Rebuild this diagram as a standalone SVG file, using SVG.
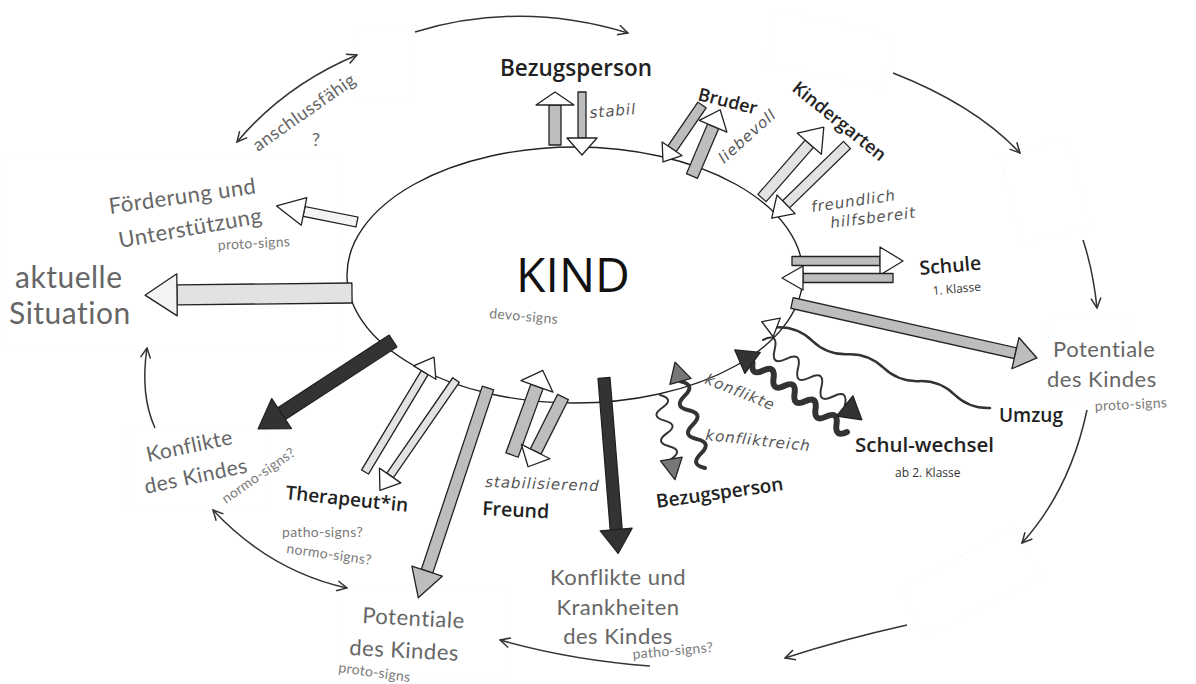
<svg xmlns="http://www.w3.org/2000/svg" width="1196" height="684" viewBox="0 0 1196 684">
  <defs>
    <marker id="vh" viewBox="0 0 12 12" refX="11" refY="6" markerWidth="12" markerHeight="12" markerUnits="userSpaceOnUse" orient="auto-start-reverse">
      <path d="M1,1 L11,6 L1,11" fill="none" stroke="#333" stroke-width="1.5"/>
    </marker>
    <style>
      .bg{fill:#fff}
      .ring{fill:none;stroke:#333;stroke-width:1.5}
      .ghost{fill:none;stroke:#f0f0f0;stroke-width:1;stroke-dasharray:1 3}
      .kind{fill:#fff;stroke:#222;stroke-width:1.4}
      .ar rect,.ar polygon{stroke:#222;stroke-width:1.3;stroke-linejoin:round}
      .g{fill:#bdbdbd}
      .l{fill:#e2e2e2}
      .vl{fill:#f3f3f3}
      .d{fill:#333}
      .w{fill:#fff}
      .wave{fill:none;stroke:#333;stroke-linecap:round;stroke-linejoin:round}
      .lab{font-family:"Open Sans","Liberation Sans",sans-serif;font-weight:600;fill:#222}
      .out{font-family:Lato,"Liberation Sans",sans-serif;fill:#666;letter-spacing:0.5px}
      .sig{font-family:Lato,"Liberation Sans",sans-serif;fill:#7a7a7a;font-size:14px;letter-spacing:0.3px}
      .hand{font-family:"DejaVu Sans","Liberation Sans",sans-serif;font-style:italic;fill:#555;font-size:15px;letter-spacing:1px}
      .sm{font-family:"Open Sans","Liberation Sans",sans-serif;fill:#333;font-size:12px}
    </style>
  </defs>
  <rect class="bg" width="1196" height="684"/>

  <!-- faint empty frames around the outer stations -->
  <g id="frames">
    <rect class="ghost" x="355" y="25" width="60" height="72"/>
    <rect class="ghost" x="5" y="155" width="337" height="195"/>
    <rect class="ghost" x="770" y="22" width="120" height="55" transform="rotate(12 830 50)"/>
    <rect class="ghost" x="1010" y="145" width="70" height="92" transform="rotate(-15 1045 190)"/>
    <rect class="ghost" x="1048" y="318" width="80" height="82"/>
    <rect class="ghost" x="905" y="555" width="130" height="55" transform="rotate(-28 970 582)"/>
    <rect class="ghost" x="128" y="428" width="137" height="82"/>
    <rect class="ghost" x="340" y="590" width="165" height="88"/>
  </g>

  <!-- cycle of stations around the child -->
  <g id="connectors">
    <path class="ring" d="M237,142 Q285,85 357,55" marker-start="url(#vh)" marker-end="url(#vh)"/>
    <path class="ring" d="M415,32 Q520,0 628,33" marker-end="url(#vh)"/>
    <path class="ring" d="M893,73 Q975,105 1020,153" marker-end="url(#vh)"/>
    <path class="ring" d="M1083,240 Q1093,270 1097,308" marker-end="url(#vh)"/>
    <path class="ring" d="M1087,410 Q1070,490 1022,543" marker-end="url(#vh)"/>
    <path class="ring" d="M907,625 Q840,640 785,658" marker-end="url(#vh)"/>
    <path class="ring" d="M650,666 Q570,660 500,640" marker-end="url(#vh)"/>
    <path class="ring" d="M213,510 Q270,571 347,588" marker-start="url(#vh)" marker-end="url(#vh)"/>
    <path class="ring" d="M155,428 Q140,395 147,348" marker-end="url(#vh)"/>
  </g>

  <!-- central node -->
  <g id="kind">
    <ellipse class="kind" cx="575" cy="275" rx="228" ry="128"/>
    <text x="573" y="292" text-anchor="middle" font-family="Open Sans, Liberation Sans, sans-serif" font-size="48" fill="#111">KIND</text>
    <text class="sig" transform="translate(489,318) rotate(5)" font-size="13.5">devo-signs</text>
  </g>

  <!-- relation arrows -->
  <g id="relations" class="ar">
    <!-- Bezugsperson (top) -->
    <g transform="translate(555,145) rotate(-90)"><rect class="g" x="0" y="-6" width="40" height="12"/><polygon class="w" points="40,-19 53,0 40,19"/></g>
    <g transform="translate(582,92) rotate(90)"><rect class="g" x="0" y="-4" width="46" height="8"/><polygon class="w" points="46,-15 63,0 46,15"/></g>
    <!-- Bruder -->
    <g transform="translate(702,105) rotate(124.4)"><rect class="g" x="0" y="-5" width="53" height="10"/><polygon class="w" points="53,-12 69,0 53,12"/></g>
    <g transform="translate(692,176) rotate(-67)"><rect class="g" x="0" y="-6" width="54" height="12"/><polygon class="w" points="54,-15 72,0 54,15"/></g>
    <!-- Kindergarten -->
    <g transform="translate(762,198) rotate(-48.9)"><rect class="l" x="0" y="-5.5" width="72" height="11"/><polygon class="w" points="72,-16 94,0 72,16"/></g>
    <g transform="translate(847,145) rotate(135.8)"><rect class="l" x="0" y="-5" width="85" height="10"/><polygon class="w" points="85,-13 105,0 85,13"/></g>
    <!-- Schule -->
    <g transform="translate(792,261)"><rect class="g" x="0" y="-4.5" width="88" height="9"/><polygon class="w" points="88,-14 111,0 88,14"/></g>
    <g transform="translate(893,278) rotate(180)"><rect class="g" x="0" y="-4.5" width="90" height="9"/><polygon class="w" points="90,-12 111,0 90,12"/></g>
    <!-- Potentiale (right) -->
    <g transform="translate(792,303) rotate(12.65)"><rect class="g" x="0" y="-5.5" width="229" height="11"/><polygon class="g" points="229,-16 251,0 229,16"/></g>
    <!-- Foerderung und Unterstuetzung -->
    <g transform="translate(357,222) rotate(191.3)"><rect class="vl" x="0" y="-5" width="54" height="10"/><polygon class="w" points="54,-14 82,0 54,14"/></g>
    <!-- aktuelle Situation -->
    <g transform="translate(352,293) rotate(179.4)"><rect class="l" x="0" y="-10" width="175" height="20"/><polygon class="vl" points="175,-21 207,0 175,21"/></g>
    <!-- Konflikte des Kindes -->
    <g transform="translate(393,341) rotate(146.9)"><rect class="d" x="0" y="-7" width="133" height="14"/><polygon class="d" points="133,-18 161,0 133,18"/></g>
    <!-- Therapeut*in -->
    <g transform="translate(365,472) rotate(-59)"><rect class="l" x="0" y="-4" width="116" height="8"/><polygon class="w" points="116,-13 134,0 116,13"/></g>
    <g transform="translate(456,380) rotate(124.6)"><rect class="l" x="0" y="-4" width="116" height="8"/><polygon class="w" points="116,-13 134,0 116,13"/></g>
    <!-- Potentiale (bottom) -->
    <g transform="translate(488,388) rotate(108.4)"><rect class="g" x="0" y="-6" width="193" height="12"/><polygon class="g" points="193,-16 221,0 193,16"/></g>
    <!-- Freund -->
    <g transform="translate(512,455) rotate(-70)"><rect class="g" x="0" y="-6.5" width="73" height="13"/><polygon class="w" points="73,-17 90,0 73,17"/></g>
    <g transform="translate(563,397) rotate(116.6)"><rect class="g" x="0" y="-6" width="61" height="12"/><polygon class="w" points="61,-16 78,0 61,16"/></g>
    <!-- Konflikte und Krankheiten -->
    <g transform="translate(604,378) rotate(85.4)"><rect class="d" x="0" y="-6" width="152" height="12"/><polygon class="d" points="152,-16 176,0 152,16"/></g>

    <!-- Bezugsperson (bottom), wavy -->
    <g transform="translate(660,395) rotate(80)"><path class="wave" stroke-width="2" d="M0,0 q6.5,-14 13,0 t13,0 t13,0 t13,0 t13,0"/><polygon fill="#777" points="65,-11 86,0 65,11"/></g>
    <g transform="translate(705,468) rotate(-105.8)"><path class="wave" stroke-width="4" d="M0,0 q7.5,-14 15,0 t15,0 t15,0 t15,0 t15,0 t15,0"/><polygon fill="#777" points="90,-11 110,0 90,11"/></g>
    <!-- Schul-wechsel, wavy -->
    <g transform="translate(847,432) rotate(216.2)"><path class="wave" stroke-width="6" d="M0,0 q6.5,-12 13,0 t13,0 t13,0 t13,0 t13,0 t13,0 t13,0 t13,0 t13,0"/><polygon class="d" points="117,-13 139,0 117,13"/></g>
    <g transform="translate(763,340) rotate(38.9)"><path class="wave" stroke-width="2" d="M0,0 q7.5,-16 15,0 t15,0 t15,0 t15,0 t15,0 t15,0 t15,0"/><polygon class="d" points="105,-13 127,0 105,13"/></g>
    <!-- Umzug -->
    <g transform="translate(990,408) rotate(200.7)"><path class="wave" stroke-width="2.5" d="M0,0 q19,-8 38,0 t38,0 t38,0 t38,0 t38,0 t38,0"/><polygon class="w" points="228,-10 244,0 228,10"/></g>
  </g>

  <!-- relation labels -->
  <g id="label-bezug-top">
    <text class="lab" x="500" y="76" font-size="22.5">Bezugsperson</text>
    <text class="hand" transform="translate(590,118) rotate(-5)">stabil</text>
  </g>
  <g id="label-bruder">
    <text class="lab" transform="translate(697,100) rotate(14)" font-size="18">Bruder</text>
    <text class="hand" transform="translate(724,164) rotate(-42)" font-size="13" letter-spacing="0.5">liebevoll</text>
  </g>
  <g id="label-kindergarten">
    <text class="lab" transform="translate(791,90) rotate(39)" font-size="18">Kindergarten</text>
    <text class="hand" transform="translate(812,212) rotate(-8)">freundlich</text>
    <text class="hand" transform="translate(831,228) rotate(-7)">hilfsbereit</text>
  </g>
  <g id="label-schule">
    <text class="lab" transform="translate(920,275) rotate(-5)" font-size="19.5">Schule</text>
    <text class="sm" transform="translate(933,295) rotate(-5)" font-size="11">1. Klasse</text>
  </g>
  <g id="label-umzug">
    <text class="lab" x="999" y="422" font-size="19">Umzug</text>
  </g>
  <g id="label-schulwechsel">
    <text class="lab" x="855" y="452" font-size="20.5" font-weight="500">Schul-wechsel</text>
    <text class="sm" x="895" y="477">ab 2. Klasse</text>
  </g>
  <g id="label-bezug-bottom">
    <text class="lab" transform="translate(657,508) rotate(-8)" font-size="19">Bezugsperson</text>
    <text class="hand" transform="translate(704,383) rotate(22)">konflikte</text>
    <text class="hand" transform="translate(705,440) rotate(6)">konfliktreich</text>
  </g>
  <g id="label-freund">
    <text class="hand" transform="translate(485,487) rotate(2)" font-size="14">stabilisierend</text>
    <text class="lab" transform="translate(482,515) rotate(3)" font-size="19.5">Freund</text>
  </g>
  <g id="label-therapeut">
    <text class="lab" transform="translate(285,499) rotate(6)" font-size="19">Therapeut*in</text>
    <text class="sig" x="282" y="537">patho-signs?</text>
    <text class="sig" transform="translate(286,553) rotate(8)">normo-signs?</text>
  </g>

  <!-- outer stations -->
  <g id="anschluss">
    <text class="out" transform="translate(258,152) rotate(-35)" font-size="18">anschlussfähig</text>
    <text class="out" x="312" y="146" font-size="18">?</text>
  </g>
  <g id="foerderung">
    <text class="out" transform="translate(110,214) rotate(-8)" font-size="22">Förderung und</text>
    <text class="out" transform="translate(120,248) rotate(-10)" font-size="22">Unterstützung</text>
    <text class="sig" transform="translate(218,250) rotate(-3)">proto-signs</text>
  </g>
  <g id="aktuelle">
    <text class="out" x="15" y="288" font-size="30" fill="#555">aktuelle</text>
    <text class="out" x="9" y="324" font-size="30" fill="#555">Situation</text>
  </g>
  <g id="konflikte-kind">
    <text class="out" transform="translate(148,462) rotate(-12)" font-size="21">Konflikte</text>
    <text class="out" transform="translate(146,494) rotate(-12)" font-size="21">des Kindes</text>
    <text class="sig" transform="translate(226,504) rotate(-35)">normo-signs?</text>
  </g>
  <g id="potentiale-bottom">
    <text class="out" transform="translate(362,623) rotate(3)" font-size="22">Potentiale</text>
    <text class="out" transform="translate(349,655) rotate(3)" font-size="22">des Kindes</text>
    <text class="sig" transform="translate(338,672) rotate(8)">proto-signs</text>
  </g>
  <g id="konflikte-krankheiten">
    <text class="out" x="618" y="585" text-anchor="middle" font-size="22">Konflikte und</text>
    <text class="out" x="618" y="615" text-anchor="middle" font-size="22">Krankheiten</text>
    <text class="out" x="618" y="644" text-anchor="middle" font-size="22">des Kindes</text>
    <text class="sig" transform="translate(633,659) rotate(-5)">patho-signs?</text>
  </g>
  <g id="potentiale-right">
    <text class="out" x="1053" y="357" font-size="22">Potentiale</text>
    <text class="out" x="1047" y="387" font-size="22">des Kindes</text>
    <text class="sig" transform="translate(1095,411) rotate(-3)">proto-signs</text>
  </g>
</svg>
